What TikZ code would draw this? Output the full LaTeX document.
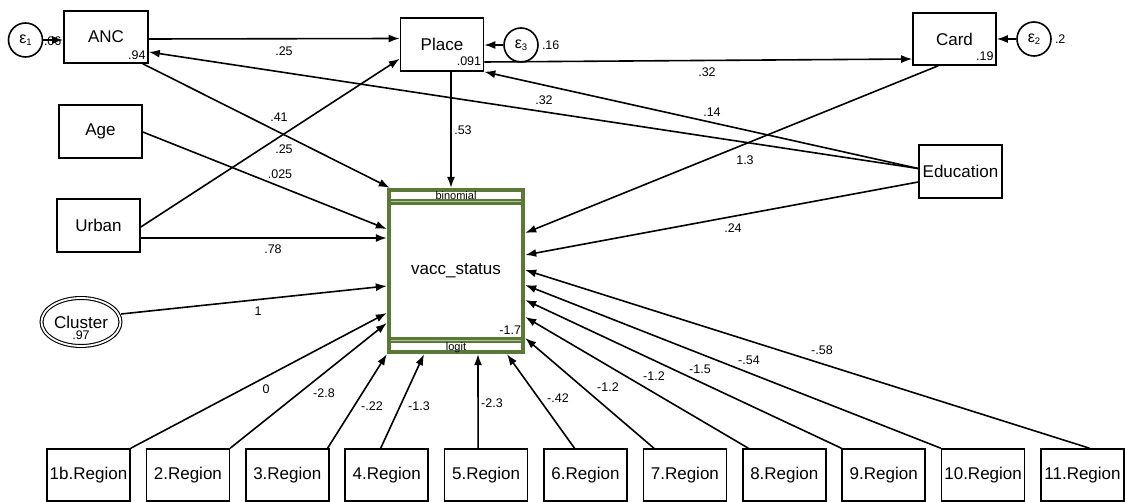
\documentclass[tikz,border=0pt]{standalone}
\usepackage{fontspec}
\setmainfont{Liberation Sans}
\usetikzlibrary{arrows.meta,calc,shapes.geometric}
\definecolor{famgreen}{RGB}{88,122,50}
\tikzset{
  var/.style={draw, line width=1.6pt, rectangle, minimum width=83pt, minimum height=52pt,
              inner sep=0pt, font=\fontsize{17}{17}\selectfont},
  err/.style={draw, line width=1.6pt, circle, minimum size=34pt, inner sep=0pt},
  lat/.style={draw, ellipse, double, line width=1.1pt, double distance=1.8pt,
              minimum width=79pt, minimum height=48pt, inner sep=0pt,
              font=\fontsize{17}{17}\selectfont},
  famnode/.style={rectangle, fill=famgreen, minimum width=138pt, minimum height=166pt, inner sep=0pt},
  path/.style={line width=1.6pt, -{Latex[length=11pt,width=8pt]}},
  coef/.style={font=\fontsize{12.5}{12.5}\selectfont, inner sep=0pt},
  tinytext/.style={font=\fontsize{11}{11}\selectfont, inner sep=0pt},
}
\newcommand{\epsl}[1]{{\fontsize{16}{16}\selectfont ε}\raisebox{-2.5pt}{\fontsize{9.5}{9.5}\selectfont #1}}
\begin{document}
\begin{tikzpicture}[x=1pt,y=-1pt]
\useasboundingbox (0,0) rectangle (1125,502);

% observed variables
\node[var, minimum width=84pt] (ANC) at (106,37) {ANC};
\node[var, minimum height=53pt] (Place) at (442,44.5) {Place};
\node[var] (Card) at (954.5,39) {Card};
\node[var, minimum height=53pt] (Age) at (100.5,131.5) {Age};
\node[var, minimum height=53pt] (Urban) at (98.5,225.5) {Urban};
\node[var, minimum height=53pt] (Education) at (960.5,171.5) {Education};

% error terms
\node[err] (e1) at (25.5,40) {\epsl{1}};
\node[err] (e3) at (521,45) {\epsl{3}};
\node[err] (e2) at (1034,39) {\epsl{2}};

% random intercept
\node[lat] (Cluster) at (81,322) {Cluster};
\node[coef] (clvar) at (81,335) {.97};

% generalized response: family and link strips
\node[famnode] (vacc) at (456,271) {};
\fill[white] ($(vacc.north west)+(4,4)$) rectangle ($(vacc.north east)+(-4,11)$);
\fill[white] ($(vacc.north west)+(4,17)$) rectangle ($(vacc.south east)+(-4,-17)$);
\fill[white] ($(vacc.south west)+(4,-11)$) rectangle ($(vacc.south east)+(-4,-4)$);
\draw[famgreen!45, line width=0.8pt] ($(vacc.north west)+(4,14)$) -- ($(vacc.north east)+(-4,14)$);
\draw[famgreen!45, line width=0.8pt] ($(vacc.south west)+(4,-14)$) -- ($(vacc.south east)+(-4,-14)$);
\node[inner sep=0pt, font=\fontsize{17}{17}\selectfont] (vname) at (vacc) {vacc\_status};
\node[tinytext] (fam) at ($(vacc.north)+(0,8)$) {binomial};
\node[tinytext] (lnk) at ($(vacc.south)+(0,-7)$) {logit};
\node[coef, anchor=east] (cons) at ($(vacc.south east)+(-4,-24)$) {-1.7};

% region indicators
\foreach \t [count=\i] in {1b,2,3,4,5,6,7,8,9,10,11}
  \node[var] (r\i) at ({88.5+99.4*(\i-1)},475) {\t.Region};

% intercepts and variances
\node[coef, anchor=south east] (iANC) at ($(ANC.south east)+(-3,-4)$) {.94};
\node[coef, anchor=south east] (iPlace) at ($(Place.south east)+(-3,-6)$) {.091};
\node[coef, anchor=south east] (iCard) at ($(Card.south east)+(-3,-5)$) {.19};
\node[coef, anchor=west] (v1) at ($(e1.east)+(0.5,1)$) {.06};
\node[coef, anchor=west] (v3) at ($(e3.east)+(3,0)$) {.16};
\node[coef, anchor=west] (v2) at ($(e2.east)+(3,0)$) {.2};

% structural paths
\draw[path] (e1.east) -- (e1.east -| ANC.west);
\draw[path] (e3.west) -- (e3.west -| Place.east);
\draw[path] (e2.west) -- (e2.west -| Card.east);
\draw[path] ($(ANC.east)+(0,2)$) -- ($(Place.west)+(0,-6)$);
\draw[path] ($(ANC.south east)+(-6,0)$) -- ($(vacc.north west)+(3,0)$);
\draw[path] ($(Urban.east)+(0,1.5)$) -- ($(Place.south west)+(0,-13)$);
\draw[path] ($(Age.east)+(0,0.5)$) -- ($(vacc.west)+(0,-42)$);
\draw[path] ($(Urban.east)+(0,12.5)$) -- ($(vacc.west)+(0,-33)$);
\draw[path] ($(Cluster.east)+(0,-8)$) -- ($(vacc.west)+(0,15)$);
\draw[path] ($(Place.south)+(9,0)$) -- ($(vacc.north)+(-5,0)$);
\draw[path] ($(Place.east)+(0,17.5)$) -- ($(Card.west)+(0,20)$);
\draw[path] ($(Education.west)+(0,-3)$) -- ($(ANC.east)+(0,15)$);
\draw[path] ($(Education.west)+(0,-3)$) -- (Place.south east);
\draw[path] ($(Card.south west)+(26,0)$) -- ($(vacc.east)+(0,-38)$);
\draw[path] ($(Education.west)+(0,10.5)$) -- ($(vacc.east)+(0,-16)$);

% region paths
\draw[path] (r1.north east) -- ($(vacc.west)+(0,42)$);
\draw[path] (r2.north east) -- ($(vacc.west)+(0,52)$);
\draw[path] ($(r3.north east)+(-2,0)$) -- (vacc.south west);
\draw[path] ($(r4.north)+(-6,0)$) -- ($(vacc.south)+(-32,0)$);
\draw[path] ($(r5.north)+(-8,0)$) -- ($(vacc.south)+(22,0)$);
\draw[path] ($(r6.north)+(-11,0)$) -- ($(vacc.south)+(51,0)$);
\draw[path] ($(r7.north)+(-31,0)$) -- ($(vacc.east)+(0,67)$);
\draw[path] ($(r8.north)+(-36,0)$) -- ($(vacc.east)+(0,46)$);
\draw[path] (r9.north west) -- ($(vacc.east)+(0,29)$);
\draw[path] (r10.north west) -- ($(vacc.east)+(0,14)$);
\draw[path] ($(r11.north)+(7,0)$) -- ($(vacc.east)+(0,-1)$);

% coefficients
\node[coef] (k1) at (284,51) {.25};
\node[coef] (k2) at (279,117) {.41};
\node[coef] (k3) at (284,149) {.25};
\node[coef] (k4) at (280,174) {.025};
\node[coef] (k5) at (273,249) {.78};
\node[coef] (k6) at (258,311) {1};
\node[coef] (k7) at (463,130) {.53};
\node[coef] (k8) at (707,72) {.32};
\node[coef] (k9) at (544,100) {.32};
\node[coef] (k10) at (712,112) {.14};
\node[coef] (k11) at (745,160) {1.3};
\node[coef] (k12) at (733,228) {.24};
\node[coef] (g1) at (266,389) {0};
\node[coef] (g2) at (324,393) {-2.8};
\node[coef] (g3) at (372,406) {-.22};
\node[coef] (g4) at (419,406) {-1.3};
\node[coef] (g5) at (492,403) {-2.3};
\node[coef] (g6) at (558,398) {-.42};
\node[coef] (g7) at (608,387) {-1.2};
\node[coef] (g8) at (654,376) {-1.2};
\node[coef] (g9) at (700,369) {-1.5};
\node[coef] (g10) at (749,360) {-.54};
\node[coef] (g11) at (822,350) {-.58};
\end{tikzpicture}
\end{document}
